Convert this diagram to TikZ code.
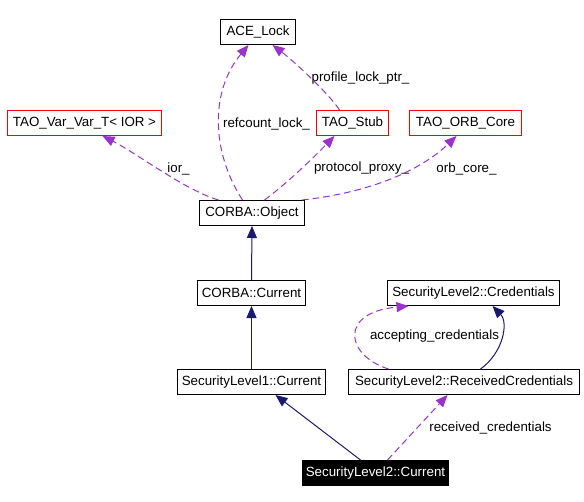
\documentclass[tikz,border=0pt]{standalone}
\usepackage{fontspec}
\setmainfont{Liberation Sans}
\usetikzlibrary{arrows.meta,calc}
\definecolor{usoColor}{HTML}{9A32CD}
\definecolor{heredaColor}{HTML}{191970}
\tikzset{
	clase/.style={draw=black, line width=0.75pt, minimum height=18.75pt, inner sep=0pt, font=\fontsize{10}{12}\selectfont},
	externa/.style={clase, draw=red},
	actual/.style={clase, fill=black, text=white},
	etiqueta/.style={inner sep=0pt, font=\fontsize{10}{12}\selectfont},
	uso/.style={color=usoColor, line width=0.75pt, dash pattern=on 5pt off 3pt, -{Triangle[length=9pt,width=7.5pt]}},
	hereda/.style={color=heredaColor, line width=0.75pt, -{Triangle[length=9pt,width=7.5pt]}}
}
\begin{document}
\begin{tikzpicture}[x=0.75pt, y=-0.75pt]
		\useasboundingbox (0,0) rectangle (584,502);
		\begin{scope}[shift={(0.5,0.5)}]

		% Clases
		\node[clase, minimum width=56.25pt] (lock) at (257.5,31.5) {ACE\_Lock};
		\node[externa, minimum width=115.5pt] (varvar) at (84,122.5) {TAO\_Var\_Var\_T< IOR >};
		\node[externa, minimum width=54pt] (stub) at (352,122.5) {TAO\_Stub};
		\node[externa, minimum width=84pt] (orb) at (465,122.5) {TAO\_ORB\_Core};
		\node[clase, minimum width=78.75pt] (obj) at (251.5,212.5) {CORBA::Object};
		\node[clase, minimum width=81pt] (cur) at (251,292.5) {CORBA::Current};
		\node[clase, minimum width=129pt] (cred) at (473,292.5) {SecurityLevel2::Credentials};
		\node[clase, minimum width=111pt] (slone) at (251,381.5) {SecurityLevel1::Current};
		\node[clase, minimum width=173.25pt] (rcred) at (463.5,381.5) {SecurityLevel2::ReceivedCredentials};
		\node[actual, minimum width=109.5pt] (sltwo) at (375,472.5) {SecurityLevel2::Current};

		% Herencia
		\draw[hereda] (cur.north) -- (obj.south);
		\draw[hereda] (slone.north) -- (cur.south);
		\draw[hereda] ($(sltwo.north)+(-15,0)$) -- ($(slone.south)+(24,0)$);
		\draw[hereda] ($(rcred.north)+(16.5,0)$) .. controls (503,352) and (508,322) .. ($(cred.south)+(19,0)$);

		% Relaciones de uso
		\draw[uso] ($(obj.north)+(-33.5,0)$) .. controls (185,190) and (135,152) .. ($(varvar.south)+(18,0)$);
		\draw[uso] ($(obj.north)+(-9.5,0)$) .. controls (210,150) and (210,90) .. ($(lock.south)+(-9.5,0)$);
		\draw[uso] ($(stub.north)+(-13,0)$) .. controls (330,95) and (295,62) .. ($(lock.south)+(14.5,0)$);
		\draw[uso] ($(obj.north)+(12.5,0)$) .. controls (290,180) and (315,155) .. ($(stub.south)+(-18,0)$);
		\draw[uso] ($(obj.north)+(50,0)$) .. controls (370,192) and (420,170) .. ($(orb.south)+(-9,0)$);
		\draw[uso] ($(rcred.north)+(-75.5,0)$) .. controls (345,355) and (338,312) .. ($(cred.south)+(-65,0)$);
		\draw[uso] ($(sltwo.north)+(12,0)$) -- ($(rcred.south)+(-16.5,0)$);

		% Etiquetas
		\node[etiqueta] (lblRef) at (266,123) {refcount\_lock\_};
		\node[etiqueta] (lblIor) at (178,168) {ior\_};
		\node[etiqueta] (lblProf) at (360,78) {profile\_lock\_ptr\_};
		\node[etiqueta] (lblProt) at (361,168) {protocol\_proxy\_};
		\node[etiqueta] (lblOrb) at (466,168) {orb\_core\_};
		\node[etiqueta] (lblAcc) at (434,336) {accepting\_credentials};
		\node[etiqueta] (lblRec) at (490,427) {received\_credentials};
		\end{scope}
	\end{tikzpicture}
\end{document}
